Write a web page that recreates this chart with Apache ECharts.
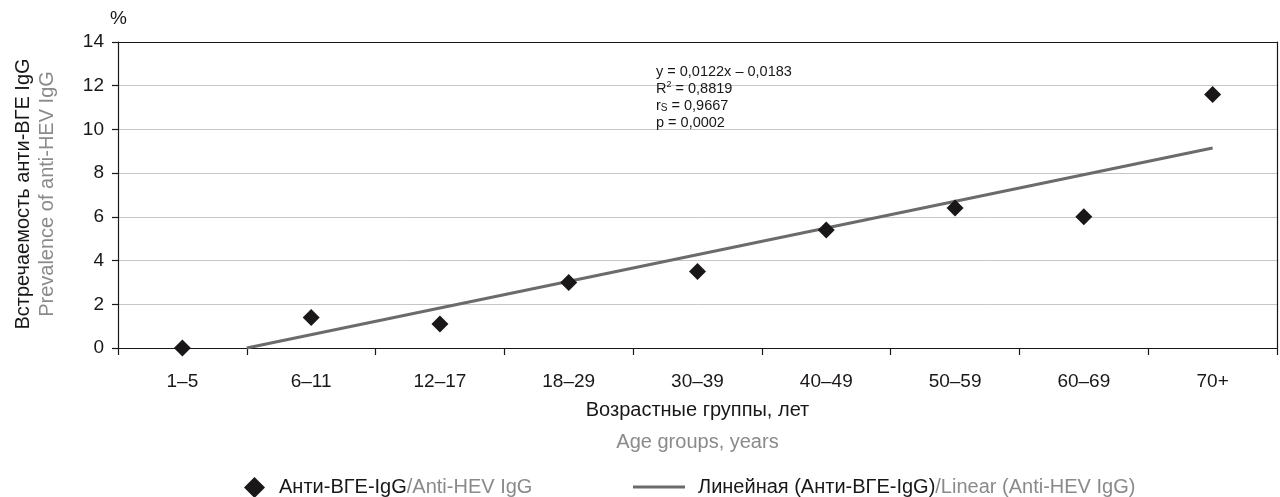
<!DOCTYPE html>
<html>
<head>
<meta charset="utf-8">
<script src="https://cdn.jsdelivr.net/npm/echarts@6/dist/echarts.min.js"></script>
<style>
html,body{margin:0;padding:0;background:#fff;}
#c{width:1280px;height:497px;}
</style>
</head>
<body>
<div id="c"></div>
<script>
var categories = ['1–5','6–11','12–17','18–29','30–39','40–49','50–59','60–69','70+'];
var prevalence = [0, 1.4, 1.1, 3.0, 3.5, 5.4, 6.4, 6.0, 11.6];
var trendX = [1.5, 9];
var trendY = [0, 9.15];
var yTicks = {min: 0, max: 14, interval: 2};

var FONT = '"Liberation Sans", Arial, sans-serif';
var BLACK = '#1a1718';
var GRAY = '#8a8a8a';

var chart = echarts.init(document.getElementById('c'), null, {renderer: 'canvas'});
chart.setOption({
  animation: false,
  textStyle: {fontFamily: FONT},
  grid: {left: 118, right: 3, top: 42, bottom: 149, containLabel: false},
  xAxis: [{
    type: 'category',
    data: categories,
    boundaryGap: true,
    axisLine: {show: true, onZero: false, lineStyle: {color: BLACK, width: 1.2}},
    axisTick: {show: true, length: 7, lineStyle: {color: BLACK, width: 1.2}},
    axisLabel: {fontSize: 19, color: BLACK, margin: 24, fontFamily: FONT},
    splitLine: {show: false},
    name: '{a|Возрастные группы, лет}\n{b|Age groups, years}',
    nameLocation: 'middle',
    nameGap: 46,
    nameTextStyle: {
      fontFamily: FONT,
      rich: {
        a: {fontSize: 20, color: BLACK, lineHeight: 32, fontFamily: FONT},
        b: {fontSize: 20, color: GRAY, lineHeight: 32, fontFamily: FONT}
      }
    }
  }, {
    type: 'value',
    position: 'top',
    min: 0.5, max: 9.5,
    axisLine: {show: true, onZero: false, lineStyle: {color: BLACK, width: 1.2}},
    axisTick: {show: false},
    axisLabel: {show: false},
    splitLine: {show: false}
  }],
  yAxis: [{
    type: 'value',
    min: yTicks.min, max: yTicks.max, interval: yTicks.interval,
    axisLine: {show: true, onZero: false, lineStyle: {color: BLACK, width: 1.2}},
    axisTick: {show: true, length: 6, lineStyle: {color: BLACK, width: 1.2}},
    axisLabel: {fontSize: 19, color: BLACK, margin: 14, fontFamily: FONT},
    splitLine: {show: true, lineStyle: {color: '#c6c6c6', width: 1}}
  }, {
    type: 'value',
    position: 'right',
    min: yTicks.min, max: yTicks.max, interval: yTicks.interval,
    axisLine: {show: true, onZero: false, lineStyle: {color: BLACK, width: 1.2}},
    axisTick: {show: false},
    axisLabel: {show: false},
    splitLine: {show: false}
  }],
  legend: [{
    data: [{name: 'Анти-ВГЕ-IgG', icon: 'diamond', itemStyle: {color: BLACK, opacity: 1}}],
    left: 239, top: 472,
    itemWidth: 21, itemHeight: 21,
    formatter: function () { return '{a|Анти-ВГЕ-IgG}{b|/Anti-HEV IgG}'; },
    textStyle: {
      padding: [0, 0, 0, 9],
      rich: {
        a: {fontSize: 20, color: BLACK, fontFamily: FONT},
        b: {fontSize: 20, color: GRAY, fontFamily: FONT}
      }
    }
  }, {
    data: [{name: 'Линейная', icon: 'rect'}],
    left: 628, top: 472,
    itemWidth: 52, itemHeight: 3,
    formatter: function () { return '{a|Линейная (Анти-ВГЕ-IgG)}{b|/Linear (Anti-HEV IgG)}'; },
    textStyle: {
      padding: [0, 0, 0, 8],
      rich: {
        a: {fontSize: 20, color: BLACK, fontFamily: FONT},
        b: {fontSize: 20, color: GRAY, fontFamily: FONT}
      }
    }
  }],
  series: [{
    name: 'Линейная',
    type: 'line',
    xAxisIndex: 1,
    yAxisIndex: 0,
    data: trendX.map(function (x, i) { return [x, trendY[i]]; }),
    symbol: 'none',
    lineStyle: {color: '#6b6b6b', width: 3},
    itemStyle: {color: '#6b6b6b'},
    z: 2
  }, {
    name: 'Анти-ВГЕ-IgG',
    type: 'scatter',
    xAxisIndex: 0,
    yAxisIndex: 0,
    data: prevalence,
    symbol: 'diamond',
    symbolSize: 17,
    itemStyle: {color: BLACK, opacity: 1},
    z: 3
  }],
  graphic: [{
    type: 'text',
    left: 110, top: 9,
    style: {text: '%', fontSize: 19, fill: BLACK, fontFamily: FONT}
  }, {
    type: 'text',
    x: 23, y: 194,
    rotation: Math.PI / 2,
    style: {text: 'Встречаемость анти-ВГЕ IgG', fontSize: 20, fill: BLACK, fontFamily: FONT, align: 'center', verticalAlign: 'middle'}
  }, {
    type: 'text',
    x: 47, y: 194,
    rotation: Math.PI / 2,
    style: {text: 'Prevalence of anti-HEV IgG', fontSize: 20, fill: GRAY, fontFamily: FONT, align: 'center', verticalAlign: 'middle'}
  }, {
    type: 'text',
    x: 656, y: 63,
    z: 10,
    style: {
      text: '{t|y = 0,0122x – 0,0183}\n{t|R}{sup|2}{t| = 0,8819}\n{t|r}{sub|S}{t| = 0,9667}\n{t|p = 0,0002}',
      fontFamily: FONT,
      rich: {
        t: {fontSize: 14.5, fill: BLACK, lineHeight: 17, fontFamily: FONT},
        sup: {fontSize: 9, fill: BLACK, lineHeight: 17, verticalAlign: 'top', padding: [0, 0, 6, 0], fontFamily: FONT},
        sub: {fontSize: 10, fill: BLACK, lineHeight: 17, padding: [5, 0, 0, 0], fontFamily: FONT}
      }
    }
  }]
});
</script>
</body>
</html>
